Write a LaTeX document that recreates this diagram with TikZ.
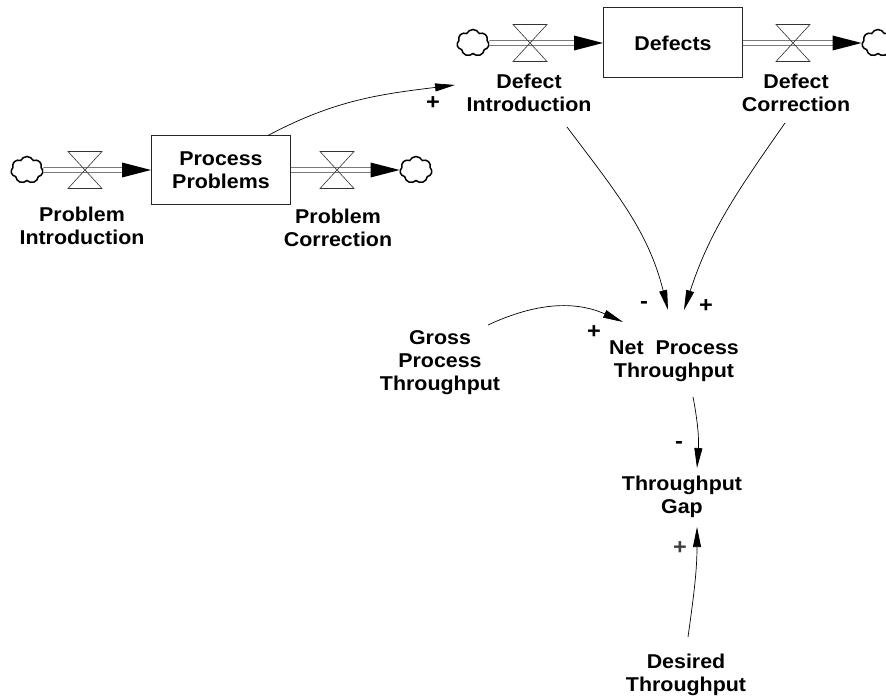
\documentclass[tikz,border=0pt]{standalone}
\usepackage{fontspec}
\newfontfamily\lblfont{Liberation Sans}[FakeStretch=1.07]
\usetikzlibrary{shapes.symbols,arrows.meta}
\begin{document}
\begin{tikzpicture}[x=1pt,y=1pt,
  lab/.style={align=center,inner sep=0pt,anchor=north,font=\lblfont\bfseries\fontsize{20}{23}\selectfont},
  sgn/.style={inner sep=0pt,font=\lblfont\bfseries\fontsize{22}{22}\selectfont},
  stock/.style={draw=black!85,line width=1pt,minimum width=139pt,minimum height=68pt,inner sep=0pt,align=center,font=\lblfont\bfseries\fontsize{20}{23}\selectfont},
  cld/.style={cloud,cloud puffs=7,cloud puff arc=130,aspect=1.15,draw,line width=1.5pt,minimum width=32pt,minimum height=27pt,inner sep=0pt},
  pipe/.style={double distance=3.6pt,line width=0.8pt,draw=black!80},
  valvestyle/.style={line width=0.6pt,draw=black!80},
  conn/.style={line width=0.7pt,-{Triangle[length=20pt,width=8pt]}},
  flowtip/.style={fill=black}]
\clip (0,0) rectangle (886,-698);
% ---------- stocks ----------
\node[stock] (pp) at (221,-170) {Process\\Problems};
\node[stock,minimum height=70pt] (df) at (673,-43) {Defects};
% ---------- clouds ----------
\node[cld] (c1) at (27,-170) {};
\node[cld] (c2) at (416,-170) {};
\node[cld] (c3) at (473,-43) {};
\node[cld] (c4) at (878,-43) {};
% ---------- valves ----------
\coordinate (v1) at (85,-170);
\coordinate (v2) at (337,-170);
\coordinate (v3) at (530,-43);
\coordinate (v4) at (793,-43);
% ---------- pipes ----------
\draw[pipe] (c1.east) -- ([xshift=-28pt]pp.west);
\fill[flowtip] ([shift={(-29pt,7.5pt)}]pp.west) -- (pp.west) -- ([shift={(-29pt,-7.5pt)}]pp.west) -- cycle;
\draw[pipe] (pp.east) -- ([xshift=-28pt]c2.west);
\fill[flowtip] ([shift={(-29pt,7.5pt)}]c2.west) -- (c2.west) -- ([shift={(-29pt,-7.5pt)}]c2.west) -- cycle;
\draw[pipe] (c3.east) -- ([xshift=-28pt]df.west);
\fill[flowtip] ([shift={(-29pt,7.5pt)}]df.west) -- (df.west) -- ([shift={(-29pt,-7.5pt)}]df.west) -- cycle;
\draw[pipe] (df.east) -- ([xshift=-28pt]c4.west);
\fill[flowtip] ([shift={(-29pt,7.5pt)}]c4.west) -- (c4.west) -- ([shift={(-29pt,-7.5pt)}]c4.west) -- cycle;
\foreach \v in {v1,v2,v3,v4}{
  \draw[valvestyle] ([shift={(-17pt,18.5pt)}]\v) -- ++(34pt,0pt) -- ++(-34pt,-37pt) -- ++(34pt,0pt) -- cycle;
}
% ---------- labels ----------
\node[lab] (pi) at (82,-207) {Problem\\Introduction};
\node[lab] (pc) at (338,-208.5) {Problem\\Correction};
\node[lab] (di) at (529,-73.5) {Defect\\Introduction};
\node[lab] (dc) at (796,-73.5) {Defect\\Correction};
\node[lab] (gpt) at (440,-330.5) {Gross\\Process\\Throughput};
\node[lab] (npt) at (674,-340.5) {Net\ \ Process\\Throughput};
\node[lab] (tg) at (682,-475.5) {Throughput\\Gap};
\node[lab] (dt) at (686,-653.5) {Desired\\Throughput};
% ---------- connectors ----------
\draw[conn] ([xshift=47pt]pp.north) to[out=28,in=187] ([shift={(-74pt,-11.5pt)}]di.north);
\draw[conn] ([shift={(38pt,-53.5pt)}]di.north) to[out=-53,in=104] ([shift={(-6pt,30.5pt)}]npt.north);
\draw[conn] ([shift={(-11pt,-49.5pt)}]dc.north) to[out=-125,in=72] ([shift={(10pt,30.5pt)}]npt.north);
\draw[conn] ([shift={(48pt,5.5pt)}]gpt.north) to[out=25,in=156] ([shift={(-51pt,18.5pt)}]npt.north);
\draw[conn] ([shift={(19pt,-56.5pt)}]npt.north) to[out=-79,in=86] ([shift={(15pt,7.5pt)}]tg.north);
\draw[conn] ([shift={(2pt,16.5pt)}]dt.north) to[out=82,in=-90] ([shift={(15pt,-51.5pt)}]tg.north);
% ---------- polarity signs ----------
\node[sgn] (s1) at (433,-103) {+};
\node[sgn] (s2) at (644,-305) {-};
\node[sgn] (s3) at (706,-306) {+};
\node[sgn] (s4) at (594,-332) {+};
\node[sgn] (s5) at (679,-445) {-};
\node[sgn,text=black!75] (s6) at (680,-548) {+};
\end{tikzpicture}
\end{document}
